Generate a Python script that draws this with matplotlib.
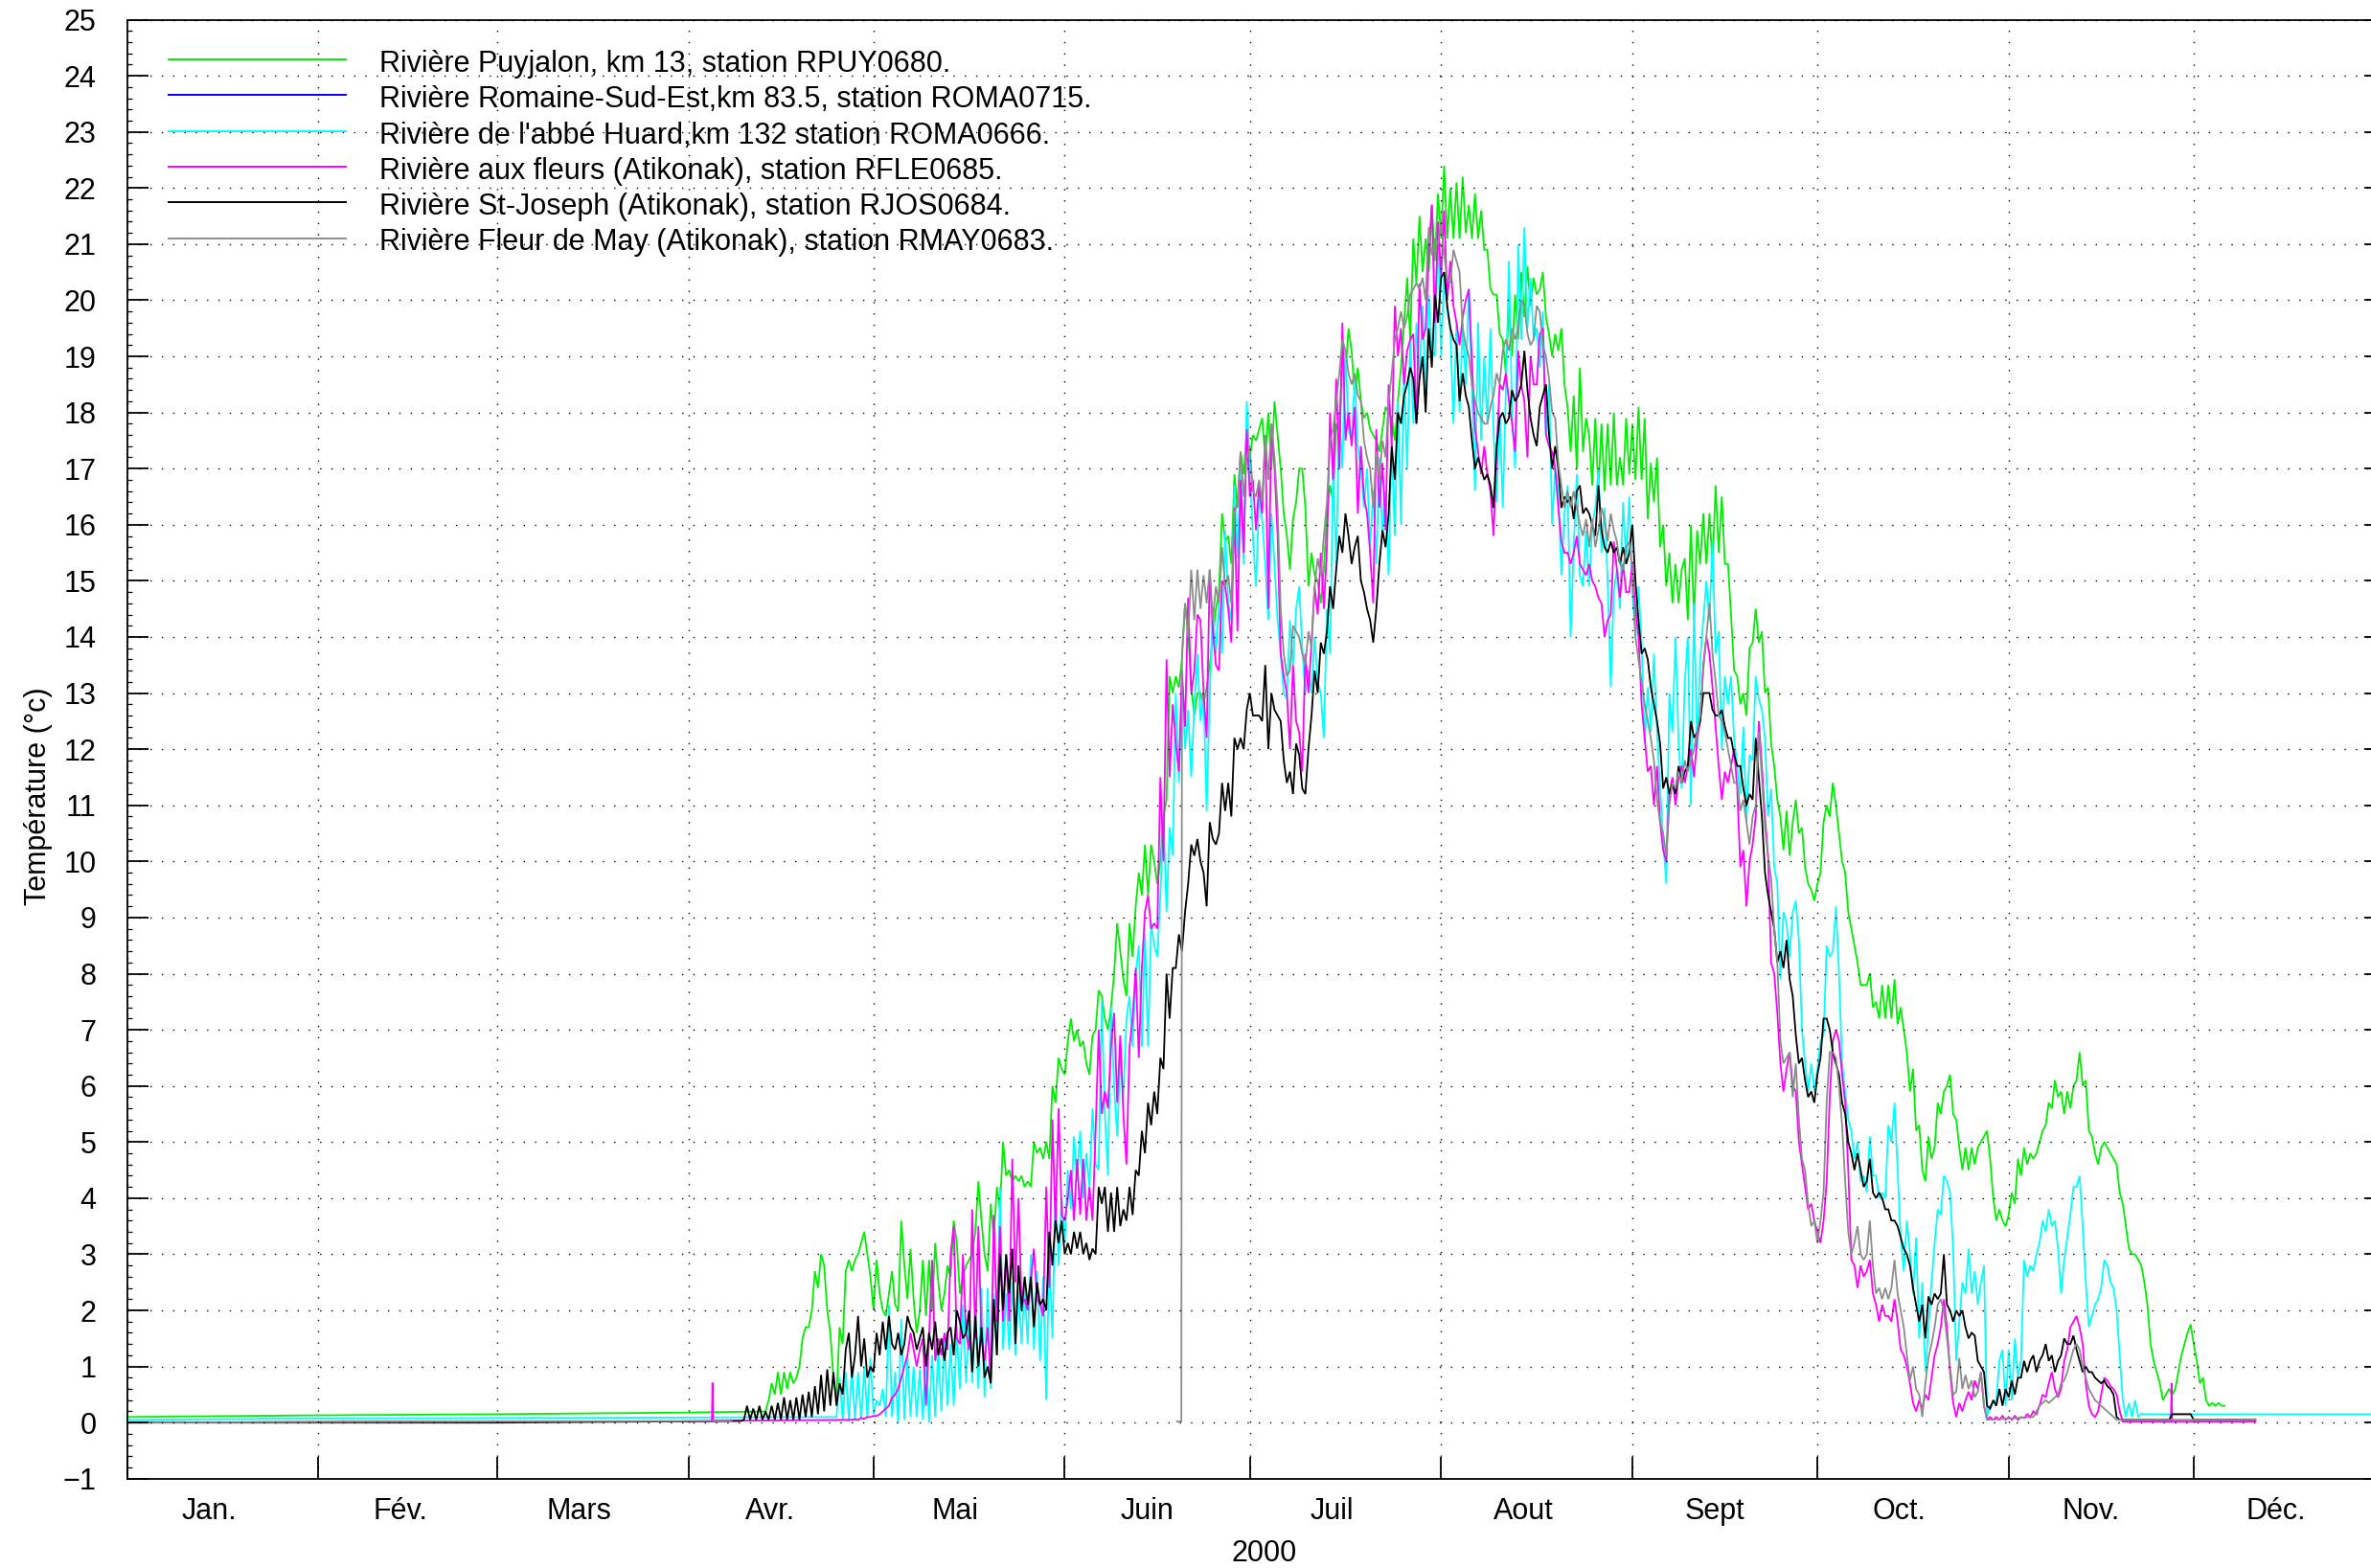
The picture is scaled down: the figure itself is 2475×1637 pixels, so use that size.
import math
import matplotlib
matplotlib.use("Agg")
import matplotlib.pyplot as plt
from matplotlib.lines import Line2D
from matplotlib.ticker import MultipleLocator

plt.rcParams['font.family'] = ['Liberation Sans', 'DejaVu Sans']

# ---------------- data ----------------
MONTH_STARTS = [0, 31, 60, 91, 121, 152, 182, 213, 244, 274, 305, 335, 366]
MONTH_LABELS = ['Jan.', 'Fév.', 'Mars', 'Avr.', 'Mai', 'Juin', 'Juil', 'Aout',
                'Sept', 'Oct.', 'Nov.', 'Déc.']
YEAR_LABEL = '2000'
Y_LABEL = 'Température (°c)'
Y_TICKS = list(range(-1, 26))
SERIES_LABELS = [
    "Rivière Puyjalon, km 13, station RPUY0680.",
    "Rivière Romaine-Sud-Est,km 83.5, station ROMA0715.",
    "Rivière de l'abbé Huard,km 132 station ROMA0666.",
    "Rivière aux fleurs (Atikonak), station RFLE0685.",
    "Rivière St-Joseph (Atikonak), station RJOS0684.",
    "Rivière Fleur de May (Atikonak), station RMAY0683.",
]
STEP = 0.5  # days between readings in the dense parts

# Puyjalon (green)
GREEN_HEAD_DAYS = [0, 30, 60, 91, 103.5]
GREEN_HEAD_VALS = [0.10, 0.13, 0.15, 0.18, 0.20]
GREEN_START = 104.0
GREEN_VALS = [
    0.4, 0.7, 0.5, 0.9, 0.5, 0.9, 0.6, 0.9, 0.7, 0.8,
    1.0, 1.5, 1.7, 1.7, 2.0, 2.7, 2.4, 3.0, 2.8, 2.0,
    1.6, 0.8, 0.4, 1.7, 1.4, 2.7, 2.9, 2.7, 2.9, 3.0,
    3.2, 3.4, 3.0, 2.6, 2.0, 2.9, 2.3, 2.0, 1.9, 2.3,
    2.7, 2.1, 2.0, 3.6, 2.8, 2.2, 3.1, 2.2, 1.6, 2.0,
    2.9, 1.9, 2.9, 2.0, 3.2, 2.5, 2.0, 2.3, 2.8, 2.6,
    3.6, 3.2, 2.3, 2.6, 2.8, 2.9, 3.0, 3.4, 4.3, 3.6,
    3.0, 2.7, 3.9, 3.3, 4.2, 3.8, 5.0, 4.4, 4.5, 4.3,
    4.4, 4.3, 4.4, 4.2, 4.3, 4.2, 5.0, 4.8, 4.9, 4.7,
    5.0, 4.7, 6.0, 5.7, 6.5, 6.3, 6.2, 6.8, 7.2, 6.8,
    7.0, 6.7, 6.8, 6.4, 6.2, 6.9, 7.0, 7.7, 7.6, 7.2,
    7.0, 7.4, 8.0, 8.9, 8.4, 7.9, 7.6, 8.9, 8.3, 9.2,
    9.8, 9.4, 10.3, 9.4, 10.3, 10.0, 9.6, 10.0, 10.8, 11.1,
    13.3, 13.0, 13.3, 13.1, 13.6, 14.6, 14.1, 13.1, 12.6, 13.0,
    13.0, 12.8, 13.1, 13.5, 14.0, 14.5, 14.8, 16.2, 15.7, 15.8,
    15.3, 16.9, 16.3, 17.3, 16.9, 17.7, 17.2, 17.6, 17.5, 17.7,
    17.9, 17.2, 18.0, 17.0, 18.2, 17.6, 17.0, 16.2, 15.8, 15.2,
    16.1, 16.4, 17.0, 17.0, 16.3, 14.9, 15.5, 15.1, 15.0, 14.6,
    15.2, 16.2, 16.7, 16.4, 17.8, 17.6, 19.1, 18.7, 19.5, 19.1,
    18.3, 18.8, 18.2, 17.9, 18.0, 17.7, 17.6, 17.5, 17.3, 17.7,
    18.1, 18.0, 17.9, 17.5, 18.2, 18.8, 19.6, 20.4, 19.3, 21.1,
    20.3, 21.5, 20.5, 21.1, 20.5, 21.7, 20.7, 21.9, 21.1, 22.4,
    21.1, 22.0, 21.1, 22.1, 21.1, 22.2, 21.2, 21.7, 21.1, 21.9,
    21.1, 21.6, 20.9, 20.9, 20.2, 20.1, 20.1, 19.4, 19.3, 18.7,
    19.9, 19.0, 20.1, 19.3, 20.5, 19.7, 20.6, 19.9, 20.4, 20.1,
    20.2, 20.5, 19.7, 19.4, 19.0, 19.4, 19.1, 19.5, 18.5, 18.1,
    17.3, 18.3, 17.0, 18.8, 17.3, 17.9, 17.6, 16.7, 17.9, 16.6,
    17.8, 16.6, 17.8, 16.7, 18.0, 16.7, 17.2, 16.7, 17.9, 16.9,
    17.8, 16.8, 18.1, 16.8, 17.9, 16.1, 17.1, 16.4, 17.2, 15.6,
    16.0, 14.9, 15.5, 14.6, 15.3, 14.6, 15.2, 15.4, 14.3, 16.0,
    14.3, 15.9, 15.3, 16.2, 15.3, 16.2, 15.3, 16.7, 15.5, 16.5,
    15.3, 15.3, 14.4, 13.4, 13.3, 12.8, 13.0, 12.6, 13.8, 13.9,
    14.5, 13.9, 14.1, 13.0, 13.1, 12.1, 11.7, 11.1, 10.8, 10.2,
    10.9, 10.1, 10.7, 11.1, 10.5, 10.6, 9.9, 9.6, 9.5, 9.3,
    9.6, 9.8, 10.7, 11.0, 10.8, 11.4, 11.0, 10.5, 10.0, 9.8,
    9.1, 8.8, 8.5, 8.2, 7.8, 7.8, 7.8, 8.0, 7.4, 7.5,
    7.2, 7.8, 7.2, 7.8, 7.2, 7.9, 7.1, 7.4, 7.0, 6.6,
    5.9, 6.3, 5.2, 5.3, 4.5, 4.3, 5.1, 4.7, 4.9, 5.7,
    5.5, 5.9, 6.0, 6.2, 5.5, 5.4, 4.9, 4.5, 4.9, 4.5,
    4.9, 4.6, 4.9, 5.0, 5.1, 5.2, 4.7, 4.0, 3.6, 3.8,
    3.6, 3.5, 3.7, 4.1, 3.9, 4.7, 4.4, 4.9, 4.6, 4.8,
    4.7, 4.8, 5.0, 5.2, 5.3, 5.7, 5.6, 6.1, 5.8, 5.9,
    5.5, 5.9, 5.6, 6.0, 6.1, 6.6, 6.0, 6.1, 5.2, 5.1,
    4.8, 4.6, 4.9, 5.0, 4.9, 4.8, 4.7, 4.6, 4.1, 3.9,
    3.5, 3.1, 3.0, 3.0, 2.9, 2.8, 2.5, 2.1, 1.4, 1.1,
    0.9, 0.7, 0.4, 0.5, 0.6, 0.5, 0.6, 0.9, 1.2, 1.4,
    1.6, 1.75, 1.4, 1.1, 0.7, 0.8, 0.4, 0.3, 0.35, 0.3,
    0.35, 0.3, 0.3,
]

# Romaine-Sud-Est (blue): no visible readings in the chart
BLUE_DAYS = []
BLUE_VALS = []

# Abbe Huard (cyan)
CYAN_HEAD_DAYS = [0, 30, 60, 91, 114.5]
CYAN_HEAD_VALS = [0.05, 0.07, 0.08, 0.09, 0.10]
CYAN_START = 115.0
CYAN_VALS = [
    0.1, 0.8, 0.05, 0.9, 0.05, 0.95, 0.05, 0.9, 0.05, 1.0,
    0.1, 1.15, 0.15, 0.4, 0.3, 0.6, 0.1, 2.1, 0.1, 0.9,
    0.0, 1.85, 0.05, 1.2, 0.1, 1.0, 0.1, 0.95, 0.05, 1.2,
    0.0, 1.2, 0.1, 1.3, 0.2, 1.5, 0.3, 1.4, 0.3, 1.6,
    0.6, 2.1, 0.7, 1.9, 0.7, 2.0, 0.6, 2.4, 0.45, 2.4,
    0.6, 2.3, 1.2, 4.2, 1.3, 2.3, 1.3, 2.5, 1.2, 2.4,
    1.4, 2.4, 1.4, 3.0, 1.3, 2.7, 1.1, 2.6, 0.4, 3.0,
    1.5, 4.2, 2.8, 4.0, 3.2, 4.5, 3.8, 5.1, 4.3, 5.2,
    4.0, 4.8, 4.2, 5.6, 4.6, 4.5, 7.5, 5.5, 4.4, 7.4,
    6.0, 5.1, 6.5, 5.8, 7.2, 7.6, 6.7, 8.0, 8.5, 6.7,
    8.7, 6.7, 8.9, 8.5, 8.3, 9.4, 10.8, 9.1, 10.6, 10.1,
    13.0, 11.4, 13.2, 12.0, 12.7, 11.5, 12.8, 13.7, 12.5, 13.0,
    10.9, 13.0, 14.5, 13.7, 14.6, 13.7, 15.9, 14.6, 14.3, 16.7,
    15.4, 17.0, 15.3, 18.2, 17.0, 15.8, 14.9, 16.5, 16.1, 15.3,
    14.3, 16.2, 15.3, 14.3, 13.7, 13.0, 12.9, 14.3, 13.5, 14.5,
    14.9, 13.8, 13.0, 13.4, 13.0, 14.0, 13.2, 13.0, 12.2, 14.5,
    13.7, 17.0, 15.3, 18.0, 17.0, 19.1, 17.7, 17.5, 18.6, 17.4,
    17.0, 16.3, 17.0, 15.6, 16.6, 15.3, 17.2, 15.8, 16.6, 15.1,
    17.5, 15.8, 18.2, 16.0, 18.8, 17.0, 19.3, 17.8, 19.6, 18.6,
    19.9, 18.3, 20.1, 19.1, 19.0, 21.3, 19.0, 20.5, 19.8, 19.5,
    17.8, 19.6, 18.0, 19.6, 18.5, 20.2, 18.5, 16.6, 19.6, 17.5,
    19.0, 17.8, 19.5, 17.7, 16.4, 18.0, 16.3, 18.4, 20.7, 18.0,
    17.0, 21.0, 19.3, 21.3, 19.5, 20.4, 19.3, 19.5, 18.8, 19.8,
    17.6, 18.5, 16.0, 17.0, 16.6, 15.1, 16.2, 16.7, 14.0, 15.6,
    16.9, 15.1, 14.9, 15.9, 14.9, 16.0, 16.3, 17.0, 15.5, 16.3,
    15.0, 13.1, 14.8, 15.2, 14.5, 16.4, 15.3, 16.5, 14.8, 14.0,
    14.9, 13.9, 12.1, 13.1, 12.3, 13.7, 12.3, 11.3, 10.4, 9.6,
    13.0, 12.3, 14.0, 12.1, 11.3, 13.2, 14.0, 11.0, 14.6, 12.0,
    13.6, 14.3, 15.0, 14.3, 15.7, 13.7, 14.1, 12.0, 13.3, 12.8,
    13.3, 12.2, 11.7, 11.2, 12.4, 10.7, 11.9, 11.8, 13.3, 12.9,
    12.7, 12.2, 10.8, 11.3, 9.9, 9.6, 7.9, 9.1, 8.9, 8.3,
    9.1, 9.3, 8.6, 7.0, 6.4, 5.9, 6.4, 5.9, 6.3, 6.8,
    6.9, 8.5, 8.3, 8.4, 9.2, 8.0, 6.4, 5.9, 5.4, 5.2,
    4.7, 5.0, 4.3, 4.4, 4.1, 5.1, 4.4, 4.4, 4.0, 4.1,
    4.0, 5.3, 5.0, 5.7, 4.5, 3.3, 2.7, 3.6, 3.0, 2.3,
    3.3, 1.5, 2.5, 0.9, 1.7, 2.5, 3.2, 3.8, 3.7, 4.4,
    4.3, 4.1, 3.1, 1.1, 1.8, 2.5, 2.3, 3.1, 2.3, 2.7,
    2.1, 2.5, 2.8, 0.1, 0.3, 0.35, 0.4, 1.1, 1.3, 0.3,
    1.3, 0.4, 1.5, 0.8, 1.1, 2.9, 2.6, 2.8, 2.7, 3.0,
    3.2, 3.6, 3.4, 3.8, 3.5, 3.6, 3.1, 2.3, 2.9, 3.3,
    3.7, 4.2, 4.2, 4.4, 3.5, 2.5, 1.7, 1.9, 2.1, 2.2,
    2.4, 2.9, 2.8, 2.5, 2.4, 2.0, 1.2, 0.4, 0.1, 0.35,
    0.1, 0.4, 0.1, 0.16, 0.15,
]
CYAN_TAIL_DAYS = [340, 366]
CYAN_TAIL_VALS = [0.15, 0.15]

# Aux fleurs (magenta)
MAGENTA_HEAD_DAYS = [0, 40, 94.8, 94.9, 95.0, 117.0]
MAGENTA_HEAD_VALS = [0.0, 0.02, 0.02, 0.71, 0.03, 0.05]
MAGENTA_START = 117.5
MAGENTA_VALS = [
    0.05, 0.06, 0.05, 0.08, 0.07, 0.1, 0.1, 0.12, 0.12, 0.15,
    0.2, 0.25, 0.3, 0.45, 0.5, 0.6, 0.8, 1.0, 1.2, 1.6,
    1.3, 1.0, 1.3, 1.5, 0.3, 1.5, 2.9, 1.1, 1.5, 1.2,
    1.6, 1.3, 3.0, 3.5, 1.5, 1.4, 3.0, 1.6, 1.3, 3.8,
    1.5, 3.5, 1.5, 1.1, 1.7, 0.7, 3.7, 1.8, 3.5, 1.8,
    3.0, 1.8, 4.7, 2.5, 4.0, 2.1, 2.2, 2.0, 2.5, 3.1,
    2.2, 2.1, 1.9, 4.2, 2.4, 5.4, 3.5, 5.6, 3.7, 3.6,
    4.0, 4.5, 3.6, 4.7, 3.7, 4.7, 3.6, 4.2, 3.6, 5.2,
    7.0, 5.5, 5.9, 5.6, 6.7, 7.3, 5.7, 6.9, 5.5, 4.6,
    6.7, 7.2, 8.1, 6.5, 8.1, 9.1, 9.4, 8.8, 8.9, 8.8,
    11.5, 10.0, 13.6, 11.5, 12.8, 12.1, 11.6, 13.4, 12.4, 14.7,
    13.0, 13.4, 14.4, 14.3, 13.0, 12.2, 15.2, 14.1, 13.5, 13.4,
    15.0, 14.9, 14.5, 13.9, 16.3, 14.1, 16.8, 15.5, 17.7, 16.5,
    16.8, 15.9, 16.7, 16.2, 17.6, 14.5, 17.8, 17.0, 15.8, 13.7,
    13.3, 13.0, 12.0, 13.5, 12.5, 12.3, 11.6, 13.7, 13.0, 13.9,
    14.9, 14.4, 15.5, 14.5, 15.6, 18.0, 16.8, 18.6, 17.0, 19.6,
    17.5, 18.0, 17.4, 18.1, 16.2, 17.4, 16.5, 16.2, 15.5, 14.6,
    17.7, 16.3, 17.1, 15.9, 18.5, 17.4, 19.9, 19.0, 19.5, 18.5,
    19.1, 19.3, 19.4, 17.8, 20.3, 19.3, 19.5, 20.8, 21.7, 19.6,
    21.4, 20.4, 21.6, 20.0, 20.7, 19.9, 19.6, 19.2, 19.7, 20.0,
    20.2, 18.9, 17.7, 17.3, 16.9, 17.4, 16.9, 16.6, 15.8, 17.3,
    18.5, 18.4, 18.7, 18.2, 17.8, 17.3, 19.1, 18.5, 18.2, 17.2,
    19.0, 18.5, 18.5, 19.4, 19.5, 17.6, 17.4, 17.3, 17.0, 16.3,
    15.7, 15.5, 15.5, 15.3, 15.5, 15.8, 15.3, 15.2, 15.1, 15.3,
    15.0, 14.9, 14.7, 14.6, 14.0, 14.3, 14.4, 15.7, 15.2, 14.7,
    15.3, 14.8, 14.8, 15.3, 14.5, 14.0, 12.8, 12.2, 11.6, 11.7,
    11.0, 11.7, 10.7, 10.2, 10.0, 11.2, 11.5, 11.0, 11.5, 11.7,
    11.4, 11.7, 12.0, 11.5, 12.2, 12.5, 13.5, 14.0, 13.7, 13.1,
    12.4, 11.7, 11.1, 11.6, 11.4, 11.7, 12.0, 11.3, 9.9, 10.2,
    9.2, 10.0, 10.3, 10.8, 12.5, 11.7, 10.8, 10.1, 8.2, 8.0,
    7.3, 6.4, 5.9, 6.3, 6.6, 6.0, 5.9, 5.0, 4.6, 4.2,
    3.8, 3.9, 3.6, 3.4, 3.2, 3.6, 4.3, 5.8, 6.8, 7.0,
    6.8, 6.2, 5.7, 4.5, 2.9, 2.8, 2.4, 2.8, 2.6, 2.7,
    2.9, 2.3, 2.1, 1.8, 2.1, 1.9, 1.9, 1.8, 2.2, 1.8,
    1.3, 1.2, 1.0, 0.7, 0.35, 0.2, 0.4, 0.25, 0.5, 0.4,
    0.8, 1.2, 1.4, 1.7, 2.2, 1.7, 0.9, 0.35, 0.1, 0.35,
    0.2, 0.4, 0.55, 0.4, 0.75, 0.6, 0.9, 0.3, 0.05, 0.1,
    0.05, 0.1, 0.05, 0.12, 0.05, 0.1, 0.05, 0.12, 0.05, 0.1,
    0.08, 0.15, 0.1, 0.2, 0.15, 0.3, 0.5, 0.45, 0.7, 0.9,
    0.6, 0.45, 0.6, 1.1, 1.3, 1.7, 1.8, 1.9, 1.7, 1.4,
    0.7, 0.3, 0.15, 0.1, 0.2, 0.5, 0.8, 0.75, 0.65, 0.6,
    0.5, 0.2, 0.02,
]
MAGENTA_TAIL_DAYS = [331.3, 331.4, 331.5, 345.0]
MAGENTA_TAIL_VALS = [0.02, 0.70, 0.02, 0.02]

# St-Joseph (black)
BLACK_HEAD_DAYS = [0, 60, 99.5]
BLACK_HEAD_VALS = [0.0, 0.0, 0.03]
BLACK_START = 100.0
BLACK_VALS = [
    0.05, 0.3, 0.05, 0.25, 0.05, 0.3, 0.05, 0.2, 0.05, 0.3,
    0.05, 0.35, 0.05, 0.45, 0.05, 0.4, 0.05, 0.45, 0.05, 0.5,
    0.1, 0.55, 0.1, 0.65, 0.15, 0.85, 0.2, 0.95, 0.3, 0.9,
    0.3, 0.7, 0.5, 1.3, 1.6, 0.8, 1.2, 1.9, 1.0, 1.5,
    0.8, 1.0, 0.9, 1.6, 1.2, 1.8, 1.3, 1.9, 1.4, 1.3,
    1.6, 1.2, 1.4, 1.9, 1.7, 1.6, 1.3, 1.5, 1.7, 1.0,
    1.6, 1.3, 1.8, 1.2, 1.5, 1.1, 1.6, 1.7, 1.2, 2.0,
    1.8, 1.5, 1.6, 2.0, 0.9, 1.9, 1.0, 1.7, 0.8, 1.0,
    0.7, 2.2, 1.2, 3.0, 2.0, 3.0, 2.3, 3.1, 1.4, 2.8,
    2.0, 2.6, 2.1, 2.6, 1.7, 2.5, 2.1, 2.2, 2.0, 3.4,
    2.8, 3.6, 3.2, 3.6, 3.0, 3.2, 3.0, 3.4, 3.1, 3.4,
    3.0, 3.2, 2.9, 3.1, 3.0, 4.2, 3.9, 4.2, 3.4, 4.1,
    3.4, 4.2, 3.5, 3.8, 3.6, 4.2, 3.7, 4.5, 4.4, 5.2,
    4.8, 5.7, 5.3, 5.9, 5.5, 6.5, 6.3, 8.0, 7.2, 8.1,
    8.1, 8.7, 8.4, 9.1, 9.6, 10.3, 10.1, 10.4, 10.0, 9.8,
    9.2, 10.7, 10.4, 10.3, 10.5, 11.4, 10.9, 11.4, 10.8, 12.2,
    12.0, 12.2, 12.0, 12.7, 13.0, 12.6, 12.6, 12.6, 12.5, 13.5,
    12.0, 13.0, 12.7, 12.6, 12.5, 11.8, 11.4, 11.6, 11.2, 12.1,
    11.9, 11.3, 11.2, 12.0, 12.6, 13.4, 13.0, 13.9, 13.7, 14.1,
    14.9, 14.5, 15.2, 15.8, 15.5, 16.2, 15.8, 15.3, 15.6, 15.8,
    15.0, 14.8, 14.5, 14.3, 13.9, 14.5, 15.3, 15.9, 15.6, 16.2,
    17.4, 16.8, 18.0, 17.8, 18.3, 18.5, 18.8, 18.6, 17.8, 18.6,
    19.0, 18.0, 19.5, 18.8, 20.1, 19.6, 20.4, 20.5, 19.9, 19.5,
    19.3, 19.2, 18.2, 18.7, 18.3, 18.1, 17.5, 17.0, 17.2, 17.0,
    16.8, 16.9, 16.7, 16.3, 17.4, 17.9, 18.0, 17.8, 17.9, 18.4,
    18.2, 18.3, 18.5, 19.1, 18.4, 17.9, 17.6, 17.4, 18.1, 18.3,
    18.5, 17.6, 17.0, 17.4, 17.0, 16.3, 16.5, 16.4, 16.5, 16.1,
    16.6, 16.7, 16.2, 16.3, 16.2, 16.0, 15.8, 16.7, 15.9, 15.6,
    15.5, 15.7, 15.5, 15.6, 15.3, 15.6, 15.3, 15.5, 16.0, 15.0,
    14.3, 13.7, 13.8, 13.6, 13.1, 12.8, 12.5, 12.1, 11.3, 11.5,
    11.2, 11.4, 11.2, 11.7, 11.4, 11.6, 11.7, 12.5, 12.2, 12.3,
    12.5, 13.0, 13.0, 13.0, 12.7, 12.6, 12.6, 12.7, 12.4, 12.2,
    12.2, 11.9, 11.7, 11.7, 11.3, 11.0, 11.2, 11.1, 12.2, 11.5,
    10.8, 9.8, 9.4, 9.1, 8.8, 8.2, 8.4, 8.1, 8.6, 7.9,
    7.6, 6.9, 6.4, 6.5, 6.1, 5.8, 5.9, 5.7, 6.2, 6.5,
    7.2, 7.2, 7.0, 6.6, 6.4, 6.2, 5.7, 5.5, 5.0, 4.8,
    4.5, 4.8, 4.5, 4.2, 4.3, 4.7, 4.1, 4.0, 4.1, 4.0,
    3.8, 3.8, 3.6, 3.6, 3.5, 3.3, 3.1, 3.0, 2.8, 2.4,
    2.1, 1.8, 2.1, 1.5, 2.25, 2.1, 2.3, 2.2, 2.3, 3.0,
    2.1, 2.0, 1.8, 2.0, 1.9, 2.0, 1.7, 1.5, 1.6, 1.55,
    1.1, 1.0, 0.9, 0.3, 0.25, 0.4, 0.3, 0.6, 0.3, 0.6,
    0.45, 0.75, 0.5, 0.8, 0.8, 1.1, 0.9, 1.1, 1.2, 0.9,
    1.1, 1.2, 1.4, 1.1, 1.2, 0.9, 1.1, 1.2, 1.5, 1.4,
    1.4, 1.55, 1.3, 1.1, 0.9, 1.0, 0.9, 0.9, 0.8, 0.75,
    0.7, 0.75, 0.65, 0.6, 0.5, 0.1, 0.05,
]
BLACK_TAIL_DAYS = [331.0, 331.5, 334.5, 335.0, 345.0]
BLACK_TAIL_VALS = [0.05, 0.15, 0.15, 0.05, 0.05]

# Fleur de May (gray)
GRAY_WINTER_DAYS = [0, 60, 98.0]
GRAY_WINTER_VALS = [0.0, 0.02, 0.03]
GRAY_RESTART_DAYS = [170.2, 170.9]
GRAY_RESTART_VALS = [0.02, 0.02]
GRAY_START = 171.0
GRAY_VALS = [
    13.7, 14.6, 14.0, 15.2, 14.3, 15.2, 14.5, 15.1, 14.6, 15.2,
    14.3, 14.9, 14.6, 15.6, 14.9, 15.1, 14.6, 16.2, 16.4, 17.3,
    16.5, 17.2, 17.4, 16.6, 16.5, 16.8, 16.4, 17.6, 16.8, 17.8,
    17.2, 16.3, 14.5, 13.7, 13.3, 13.4, 14.2, 14.1, 14.0, 13.7,
    13.5, 14.1, 13.8, 14.9, 15.4, 15.1, 15.8, 16.4, 17.5, 17.7,
    18.2, 18.7, 19.3, 19.1, 18.7, 18.5, 18.7, 18.3, 18.2, 17.5,
    17.2, 17.0, 16.3, 17.3, 16.8, 17.5, 17.2, 18.2, 18.7, 19.3,
    19.5, 19.8, 19.5, 19.7, 20.1, 20.2, 20.3, 20.2, 20.4, 20.0,
    21.3, 20.8, 21.1, 21.0, 21.4, 20.8, 20.4, 20.3, 20.9, 20.7,
    20.5, 19.5, 19.2, 19.0, 18.5, 18.2, 18.0, 17.9, 17.8, 17.8,
    18.1, 18.3, 18.7, 18.5, 19.1, 19.3, 19.1, 19.5, 19.3, 19.5,
    20.0, 19.9, 19.4, 19.2, 19.3, 19.9, 19.8, 19.2, 19.0, 18.6,
    18.0, 17.9, 17.1, 16.7, 16.3, 16.6, 16.3, 16.6, 16.3, 16.0,
    15.8, 16.1, 15.6, 16.1, 15.6, 15.9, 16.3, 16.1, 15.7, 16.2,
    15.9, 15.7, 15.3, 15.2, 15.6, 15.7, 15.2, 14.0, 13.6, 13.2,
    12.8, 12.5, 12.2, 11.8, 11.1, 10.7, 10.5, 10.1, 11.0, 11.4,
    11.3, 11.6, 11.4, 11.8, 11.6, 11.8, 12.0, 12.3, 12.6, 13.4,
    14.0, 14.6, 13.7, 13.2, 12.6, 12.5, 12.3, 12.0, 11.7, 11.4,
    11.4, 10.9, 11.1, 10.7, 10.3, 10.8, 11.0, 12.3, 11.5, 10.6,
    10.1, 9.7, 8.8, 8.2, 6.8, 6.4, 6.5, 6.6, 5.8, 6.4,
    5.4, 4.7, 4.5, 3.9, 3.5, 3.6, 3.2, 3.6, 4.1, 5.7,
    6.6, 6.6, 6.5, 6.0, 5.3, 4.3, 3.4, 3.0, 3.2, 3.5,
    3.0, 2.9, 3.0, 3.6, 2.8, 2.3, 2.4, 2.2, 2.4, 2.2,
    2.4, 2.9, 2.3, 2.0, 1.7, 1.2, 0.75, 1.0, 0.6, 0.5,
    0.1, 0.7, 1.15, 1.4, 1.7, 2.1, 2.2, 2.0, 1.5, 1.0,
    0.5, 0.55, 1.15, 0.6, 0.85, 0.6, 0.75, 0.45, 0.55, 0.9,
    0.3, 0.05,
]
GRAY_LATE_START = 309.0
GRAY_LATE_VALS = [
    0.1, 0.2, 0.3, 0.35, 0.4, 0.35, 0.4, 0.45, 0.5, 0.7,
    0.75, 0.9, 1.1, 1.3, 1.4, 1.3, 1.0, 0.8, 0.6, 0.5,
    0.4, 0.35, 0.3, 0.25, 0.2, 0.15, 0.1, 0.05,
]
GRAY_TAIL_DAYS = [345.0]
GRAY_TAIL_VALS = [0.05]

COLORS = ['#00ee00', '#0000ff', '#00ffff', '#ff00ff', '#000000', '#8c8c8c']


# ---------------- helpers ----------------
def grid(start, vals):
    return [start + STEP * i for i in range(len(vals))], list(vals)


def pts(days, vals):
    return list(days), list(vals)


GAP = None


def join(*segs):
    xs, ys = [], []
    for s in segs:
        if s is None:
            xs.append(math.nan)
            ys.append(math.nan)
        else:
            xs += s[0]
            ys += s[1]
    return xs, ys


green = join(pts(GREEN_HEAD_DAYS, GREEN_HEAD_VALS), grid(GREEN_START, GREEN_VALS))
blue = join(pts(BLUE_DAYS, BLUE_VALS))
cyan = join(pts(CYAN_HEAD_DAYS, CYAN_HEAD_VALS), grid(CYAN_START, CYAN_VALS),
            pts(CYAN_TAIL_DAYS, CYAN_TAIL_VALS))
magenta = join(pts(MAGENTA_HEAD_DAYS, MAGENTA_HEAD_VALS), grid(MAGENTA_START, MAGENTA_VALS),
               pts(MAGENTA_TAIL_DAYS, MAGENTA_TAIL_VALS))
black = join(pts(BLACK_HEAD_DAYS, BLACK_HEAD_VALS), grid(BLACK_START, BLACK_VALS),
             pts(BLACK_TAIL_DAYS, BLACK_TAIL_VALS))
gray = join(pts(GRAY_WINTER_DAYS, GRAY_WINTER_VALS), GAP,
            pts(GRAY_RESTART_DAYS, GRAY_RESTART_VALS), grid(GRAY_START, GRAY_VALS),
            grid(GRAY_LATE_START, GRAY_LATE_VALS), pts(GRAY_TAIL_DAYS, GRAY_TAIL_VALS))

SERIES = [green, blue, cyan, magenta, black, gray]

# ---------------- figure ----------------
FS = 22
W, H = 2475, 1637
fig = plt.figure(figsize=(W / 100, H / 100), dpi=100)
ax_l, ax_r, ax_t, ax_b = 132.6, 2489.6, 20.5, 1543.8
ax = fig.add_axes([ax_l / W, 1 - ax_b / H, (ax_r - ax_l) / W, (ax_b - ax_t) / H])

ax.set_xlim(MONTH_STARTS[0], MONTH_STARTS[-1])
ax.set_ylim(-1, 25)

for (xs, ys), c in zip(SERIES, COLORS):
    ax.plot(xs, ys, color=c, lw=1.3, solid_joinstyle='miter')

# ticks
ax.set_xticks(MONTH_STARTS)
ax.set_xticklabels([''] * len(MONTH_STARTS))
ax.set_xticks([s + 13.3 for s in MONTH_STARTS[:-1]], minor=True)
ax.set_xticklabels(MONTH_LABELS, minor=True)
ax.tick_params(axis='x', which='major', direction='in', length=16.5, width=1.3,
               top=False, bottom=True)
ax.tick_params(axis='x', which='minor', length=0, pad=14, labelsize=FS)

ax.set_yticks(Y_TICKS)
ax.yaxis.set_minor_locator(MultipleLocator(0.2))
ax.tick_params(axis='y', which='major', direction='in', length=16, width=1.3,
               left=True, right=True, labelsize=FS, pad=23)
ax.tick_params(axis='y', which='minor', direction='in', length=3.5, width=0.9,
               left=True, right=True)

for sp in ax.spines.values():
    sp.set_linewidth(1.3)

ax.grid(True, which='major', color='black', lw=1.0, linestyle=(0, (1, 7.5)))
ax.set_axisbelow(False)

ax.set_xlabel(YEAR_LABEL, fontsize=FS)
ax.xaxis.set_label_coords(((W / 2 + 82) - ax_l) / (ax_r - ax_l), 1 - (1622 - ax_t) / (ax_b - ax_t))
ax.xaxis.label.set_va('center')
ax.set_ylabel(Y_LABEL, fontsize=FS)
ax.yaxis.set_label_coords((40 - ax_l) / (ax_r - ax_l), 1 - (831 - ax_t) / (ax_b - ax_t))
ax.yaxis.label.set_va('center')

# legend (drawn at the top-left, gnuplot style)
x0, x1, xt = 175.5, 360.5, 395.5
for i, (lab, c) in enumerate(zip(SERIES_LABELS, COLORS)):
    yl = 62.0 + 37.3 * i
    fig.add_artist(Line2D([x0 / W, x1 / W], [1 - yl / H, 1 - yl / H], color=c, lw=1.4,
                          transform=fig.transFigure))
    fig.text(xt / W, 1 - (yl + 13) / H, lab, fontsize=FS, ha='left', va='baseline')

fig.savefig('out.png', dpi=100)
